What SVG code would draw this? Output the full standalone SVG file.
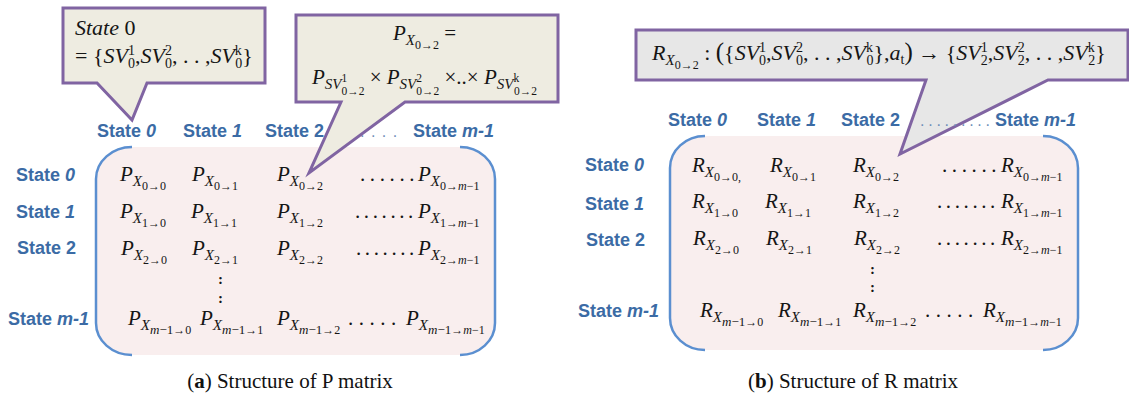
<svg xmlns="http://www.w3.org/2000/svg" width="1129" height="401" viewBox="0 0 1129 401">
<style>
.lbl{font-family:"Liberation Sans",Arial,sans-serif;font-weight:bold;font-size:18px;fill:#3b6ba5}
.dl{font-family:"Liberation Sans",Arial,sans-serif;font-size:16px;fill:#6f8fb8}
.it{font-style:italic}
.m{font-family:"Liberation Serif","DejaVu Serif",serif;font-style:italic;font-size:21px;fill:#151515}
.s{font-size:15px}
.ss{font-size:12px;font-style:normal}
.mm{font-size:13px}
.up{font-style:normal}
.sp{font-size:14px;font-style:normal}
.t{font-size:11.5px;font-style:normal}
.dots{font-family:"Liberation Serif",serif;font-size:21px;fill:#151515}
.vd{font-family:"Liberation Serif",serif;font-size:15px;font-weight:bold;fill:#151515}
.cap{font-family:"Liberation Serif","DejaVu Serif",serif;font-size:21px;fill:#111}
.bg{fill:#f9eeee}
.br{fill:none;stroke:#5b8fd0;stroke-width:2.5}
.co{stroke:#8064a2;stroke-width:3;stroke-linejoin:miter}
.big{font-size:22px}
</style>

<!-- Panel (a) matrix -->
<g id="matrixP">
<path class="bg" d="M132,147 H460 A35,32 0 0 1 495,179 V323 A35,32 0 0 1 460,355 H132 A36,32 0 0 1 96,323 V179 A36,32 0 0 1 132,147 Z"/>
<path class="br" d="M132,147 A36,32 0 0 0 96,179 V323 A36,32 0 0 0 132,355"/>
<path class="br" d="M460,147 A35,32 0 0 1 495,179 V323 A35,32 0 0 1 460,355"/>
<text class="m" x="120" y="181">P<tspan class="s" dy="5">X</tspan><tspan class="ss" dy="3.5">0→0</tspan></text>
<text class="m" x="192" y="181">P<tspan class="s" dy="5">X</tspan><tspan class="ss" dy="3.5">0→1</tspan></text>
<text class="m" x="277" y="181">P<tspan class="s" dy="5">X</tspan><tspan class="ss" dy="3.5">0→2</tspan></text>
<text class="dots" x="360" y="181" letter-spacing="4.6">......</text>
<text class="m" x="418" y="181">P<tspan class="s" dy="5">X</tspan><tspan class="ss" dy="3.5">0→<tspan class="it">m</tspan>−1</tspan></text>

<text class="m" x="120" y="218">P<tspan class="s" dy="5">X</tspan><tspan class="ss" dy="3.5">1→0</tspan></text>
<text class="m" x="191" y="218">P<tspan class="s" dy="5">X</tspan><tspan class="ss" dy="3.5">1→1</tspan></text>
<text class="m" x="277" y="218">P<tspan class="s" dy="5">X</tspan><tspan class="ss" dy="3.5">1→2</tspan></text>
<text class="dots" x="355" y="218" letter-spacing="3.6">.......</text>
<text class="m" x="418" y="218">P<tspan class="s" dy="5">X</tspan><tspan class="ss" dy="3.5">1→<tspan class="it">m</tspan>−1</tspan></text>

<text class="m" x="121" y="255">P<tspan class="s" dy="5">X</tspan><tspan class="ss" dy="3.5">2→0</tspan></text>
<text class="m" x="192" y="255">P<tspan class="s" dy="5">X</tspan><tspan class="ss" dy="3.5">2→1</tspan></text>
<text class="m" x="277" y="255">P<tspan class="s" dy="5">X</tspan><tspan class="ss" dy="3.5">2→2</tspan></text>
<text class="dots" x="356" y="255" letter-spacing="3.6">.......</text>
<text class="m" x="418" y="255">P<tspan class="s" dy="5">X</tspan><tspan class="ss" dy="3.5">2→<tspan class="it">m</tspan>−1</tspan></text>

<text class="vd" x="218" y="284">:</text>
<text class="vd" x="218" y="303">:</text>

<text class="m" x="128" y="325">P<tspan class="s" dy="5">X</tspan><tspan class="mm" dy="3.5"><tspan class="it">m</tspan><tspan class="up">−1</tspan></tspan><tspan class="ss">→0</tspan></text>
<text class="m" x="200" y="325">P<tspan class="s" dy="5">X</tspan><tspan class="mm" dy="3.5"><tspan class="it">m</tspan><tspan class="up">−1</tspan></tspan><tspan class="ss">→1</tspan></text>
<text class="m" x="277" y="325">P<tspan class="s" dy="5">X</tspan><tspan class="mm" dy="3.5"><tspan class="it">m</tspan><tspan class="up">−1</tspan></tspan><tspan class="ss">→2</tspan></text>
<text class="dots" x="348" y="325" letter-spacing="5.5">.....</text>
<text class="m" x="406" y="325">P<tspan class="s" dy="5">X</tspan><tspan class="mm" dy="3.5"><tspan class="it">m</tspan><tspan class="up">−1</tspan></tspan><tspan class="ss">→<tspan class="it">m</tspan>−1</tspan></text>
</g>

<g id="labelsP">
<text class="lbl" x="97" y="137">State <tspan class="it">0</tspan></text>
<text class="lbl" x="183" y="137">State <tspan class="it">1</tspan></text>
<text class="lbl" x="265" y="137">State 2</text>
<text class="dl" x="349" y="137" letter-spacing="6.5">.....</text>
<text class="lbl" x="413" y="137">State <tspan class="it">m-1</tspan></text>
<text class="lbl" x="16" y="181">State <tspan class="it">0</tspan></text>
<text class="lbl" x="16" y="218">State <tspan class="it">1</tspan></text>
<text class="lbl" x="17" y="254">State 2</text>
<text class="lbl" x="8" y="325">State <tspan class="it">m-1</tspan></text>
</g>

<!-- Panel (b) matrix -->
<g id="matrixR">
<path class="bg" d="M705,136 H1043 A35,32 0 0 1 1078,168 V318 A35,32 0 0 1 1043,350 H705 A35,32 0 0 1 670,318 V168 A35,32 0 0 1 705,136 Z"/>
<path class="br" d="M705,136 A35,32 0 0 0 670,168 V318 A35,32 0 0 0 705,350"/>
<path class="br" d="M1043,136 A35,32 0 0 1 1078,168 V318 A35,32 0 0 1 1043,350"/>
<text class="m" x="692" y="172">R<tspan class="s" dy="5">X</tspan><tspan class="ss" dy="3.5">0→0,</tspan></text>
<text class="m" x="770" y="172">R<tspan class="s" dy="5">X</tspan><tspan class="ss" dy="3.5">0→1</tspan></text>
<text class="m" x="853" y="172">R<tspan class="s" dy="5">X</tspan><tspan class="ss" dy="3.5">0→2</tspan></text>
<text class="dots" x="942" y="172" letter-spacing="4.6">......</text>
<text class="m" x="1001" y="172">R<tspan class="s" dy="5">X</tspan><tspan class="ss" dy="3.5">0→<tspan class="it">m</tspan>−1</tspan></text>

<text class="m" x="692" y="208">R<tspan class="s" dy="5">X</tspan><tspan class="ss" dy="3.5">1→0</tspan></text>
<text class="m" x="765" y="208">R<tspan class="s" dy="5">X</tspan><tspan class="ss" dy="3.5">1→1</tspan></text>
<text class="m" x="853" y="208">R<tspan class="s" dy="5">X</tspan><tspan class="ss" dy="3.5">1→2</tspan></text>
<text class="dots" x="937" y="208" letter-spacing="3.6">.......</text>
<text class="m" x="1001" y="208">R<tspan class="s" dy="5">X</tspan><tspan class="ss" dy="3.5">1→<tspan class="it">m</tspan>−1</tspan></text>

<text class="m" x="693" y="245">R<tspan class="s" dy="5">X</tspan><tspan class="ss" dy="3.5">2→0</tspan></text>
<text class="m" x="766" y="245">R<tspan class="s" dy="5">X</tspan><tspan class="ss" dy="3.5">2→1</tspan></text>
<text class="m" x="854" y="245">R<tspan class="s" dy="5">X</tspan><tspan class="ss" dy="3.5">2→2</tspan></text>
<text class="dots" x="937" y="245" letter-spacing="3.6">.......</text>
<text class="m" x="1001" y="245">R<tspan class="s" dy="5">X</tspan><tspan class="ss" dy="3.5">2→<tspan class="it">m</tspan>−1</tspan></text>

<text class="vd" x="870" y="274">:</text>
<text class="vd" x="870" y="292">:</text>

<text class="m" x="700" y="317">R<tspan class="s" dy="5">X</tspan><tspan class="mm" dy="3.5"><tspan class="it">m</tspan><tspan class="up">−1</tspan></tspan><tspan class="ss">→0</tspan></text>
<text class="m" x="778" y="317">R<tspan class="s" dy="5">X</tspan><tspan class="mm" dy="3.5"><tspan class="it">m</tspan><tspan class="up">−1</tspan></tspan><tspan class="ss">→1</tspan></text>
<text class="m" x="853" y="317">R<tspan class="s" dy="5">X</tspan><tspan class="mm" dy="3.5"><tspan class="it">m</tspan><tspan class="up">−1</tspan></tspan><tspan class="ss">→2</tspan></text>
<text class="dots" x="925" y="317" letter-spacing="5.5">.....</text>
<text class="m" x="983" y="317">R<tspan class="s" dy="5">X</tspan><tspan class="mm" dy="3.5"><tspan class="it">m</tspan><tspan class="up">−1</tspan></tspan><tspan class="ss">→<tspan class="it">m</tspan>−1</tspan></text>
</g>

<!-- Callouts -->
<g id="callout-state0">
<path class="co" fill="#eeece1" d="M63,8 H265 V83 H147 L132,120 L97,83 H63 Z"/>
<text class="m big" x="75" y="35">State<tspan class="up"> 0</tspan></text>
<text class="m big" x="75" y="63"><tspan class="up">= {</tspan>SV<tspan class="sp" dy="-8">1</tspan><tspan class="sp" dx="-7" dy="13">0</tspan><tspan class="up" dy="-5">,</tspan>SV<tspan class="sp" dy="-8">2</tspan><tspan class="sp" dx="-7" dy="13">0</tspan><tspan class="up" dy="-5">, . . ,</tspan>SV<tspan class="sp it" dy="-8">k</tspan><tspan class="sp" dx="-6.5" dy="13">0</tspan><tspan class="up" dy="-5">}</tspan></text>
</g>

<g id="callout-px02">
<path class="co" fill="#eeece1" d="M296,15 H558 V102 H405 L309,173 L341,102 H296 Z"/>
<text class="m" x="393" y="40">P<tspan class="s" dy="5">X</tspan><tspan class="ss" dy="3.5">0→2</tspan><tspan class="up" dy="-8.5"> =</tspan></text>
<text class="m" x="312" y="84">P<tspan class="s" dy="5">SV</tspan><tspan class="t" dy="-7">1</tspan><tspan class="t" dx="-5.8" dy="13">0→2</tspan><tspan class="up" dy="-11"> × </tspan>P<tspan class="s" dy="5">SV</tspan><tspan class="t" dy="-7">2</tspan><tspan class="t" dx="-5.8" dy="13">0→2</tspan><tspan class="up" dy="-11"> ×..× </tspan>P<tspan class="s" dy="5">SV</tspan><tspan class="t it" dy="-7">k</tspan><tspan class="t" dx="-5.1" dy="13">0→2</tspan></text>
</g>

<g id="callout-rx02">
<path class="co" fill="#e7e7e7" d="M636,30 H1128 V80 H1048 L900,154 L926,80 H636 Z"/>
<text class="m big" x="652" y="60">R<tspan class="s" dy="5">X</tspan><tspan class="ss" dy="3.5">0→2</tspan><tspan class="up" dy="-8.5"> : </tspan><tspan class="up" font-size="25">(</tspan><tspan class="up">{</tspan>SV<tspan class="sp" dy="-8">1</tspan><tspan class="sp" dx="-7" dy="13">0</tspan><tspan class="up" dy="-5">,</tspan>SV<tspan class="sp" dy="-8">2</tspan><tspan class="sp" dx="-7" dy="13">0</tspan><tspan class="up" dy="-5">, . . ,</tspan>SV<tspan class="sp it" dy="-8">k</tspan><tspan class="sp" dx="-6.5" dy="13">0</tspan><tspan class="up" dy="-5">},</tspan>a<tspan class="sp it" dy="4">t</tspan><tspan class="up" dy="-4" font-size="25">)</tspan><tspan class="up"> → {</tspan>SV<tspan class="sp" dy="-8">1</tspan><tspan class="sp" dx="-7" dy="13">2</tspan><tspan class="up" dy="-5">,</tspan>SV<tspan class="sp" dy="-8">2</tspan><tspan class="sp" dx="-7" dy="13">2</tspan><tspan class="up" dy="-5">, . . ,</tspan>SV<tspan class="sp it" dy="-8">k</tspan><tspan class="sp" dx="-6.5" dy="13">2</tspan><tspan class="up" dy="-5">}</tspan></text>
</g>

<g id="labelsR">
<text class="lbl" x="668" y="126">State <tspan class="it">0</tspan></text>
<text class="lbl" x="757" y="126">State <tspan class="it">1</tspan></text>
<text class="lbl" x="841" y="126">State 2</text>
<text class="dl" x="920" y="126" letter-spacing="3.75">.........</text>
<text class="lbl" x="995" y="126">State <tspan class="it">m-1</tspan></text>
<text class="lbl" x="585" y="171">State <tspan class="it">0</tspan></text>
<text class="lbl" x="585" y="210">State <tspan class="it">1</tspan></text>
<text class="lbl" x="586" y="246">State 2</text>
<text class="lbl" x="578" y="317">State <tspan class="it">m-1</tspan></text>
</g>

<g id="captions">
<text class="cap" x="290" y="388" text-anchor="middle">(<tspan font-weight="bold">a</tspan>) Structure of P matrix</text>
<text class="cap" x="853" y="388" text-anchor="middle">(<tspan font-weight="bold">b</tspan>) Structure of R matrix</text>
</g>
</svg>
